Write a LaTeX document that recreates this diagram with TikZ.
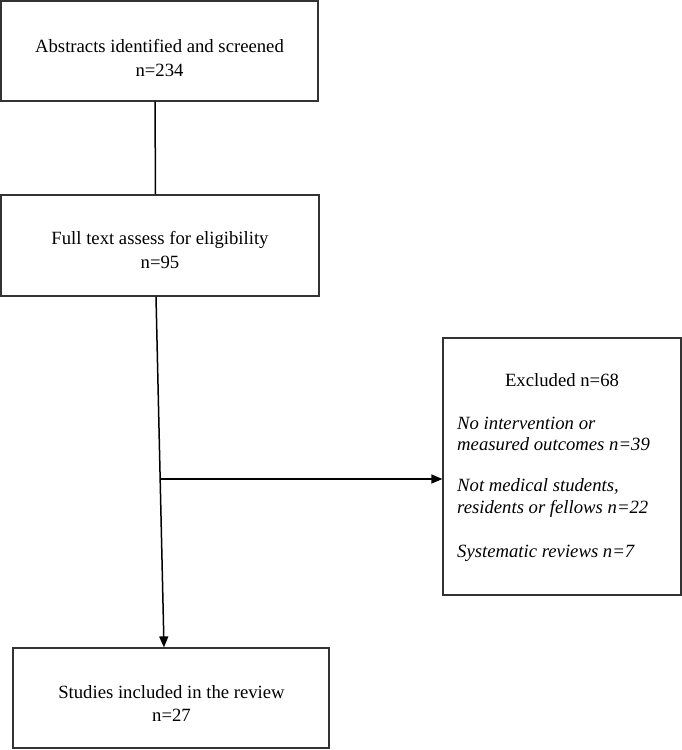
\documentclass[tikz,border=0pt]{standalone}
\usepackage{fontspec}
\setmainfont{Liberation Serif}
\usetikzlibrary{arrows.meta}
\begin{document}
\begin{tikzpicture}[x=1pt,y=-1pt,
  box/.style={draw=black!80,line width=1.2pt,rectangle,inner sep=0pt},
  txt/.style={anchor=base,inner sep=0pt,font=\fontsize{18.7}{22}\selectfont},
  itxt/.style={anchor=base west,inner sep=0pt,font=\fontsize{18.7}{22}\selectfont\itshape},
  conn/.style={draw=black,line width=1.5pt},
  arr/.style={conn,-{Triangle[length=11pt,width=9pt]}}]
\useasboundingbox (0,0) rectangle (682,750);
% boxes
\node[box,minimum width=317pt,minimum height=100pt] (b1) at (159.5,51) {};
\node[box,minimum width=318pt,minimum height=101pt] (b2) at (160,245.5) {};
\node[box,minimum width=238pt,minimum height=257pt] (ex) at (562,466.5) {};
\node[box,minimum width=316pt,minimum height=100pt] (b3) at (171,698) {};
% texts
\node[txt] (t1a) at (159.5,52) {Abstracts identified and screened};
\node[txt] (t1b) at (159.5,76) {n=234};
\node[txt] (t2a) at (160,244) {Full text assess for eligibility};
\node[txt] (t2b) at (160,268) {n=95};
\node[txt] (t3a) at (171.5,698) {Studies included in the review};
\node[txt] (t3b) at (171.5,721) {n=27};
\node[txt] (te0) at (562,386) {Excluded n=68};
\node[itxt] (te1) at (457,429) {No intervention or};
\node[itxt] (te2) at (457,450) {measured outcomes n=39};
\node[itxt] (te3) at (457,491) {Not medical students,};
\node[itxt] (te4) at (457,513) {residents or fellows n=22};
\node[itxt] (te5) at (457,557) {Systematic reviews n=7};
% connectors
\draw[conn] ([xshift=-4.5pt]b1.south) -- ([xshift=-4.5pt]b2.north);
\draw[arr] ([xshift=-4pt]b2.south) -- ([xshift=-7pt]b3.north);
\coordinate (j) at (160.5,479);
\draw[arr] (j) -- (ex.west |- j);
\end{tikzpicture}
\end{document}
